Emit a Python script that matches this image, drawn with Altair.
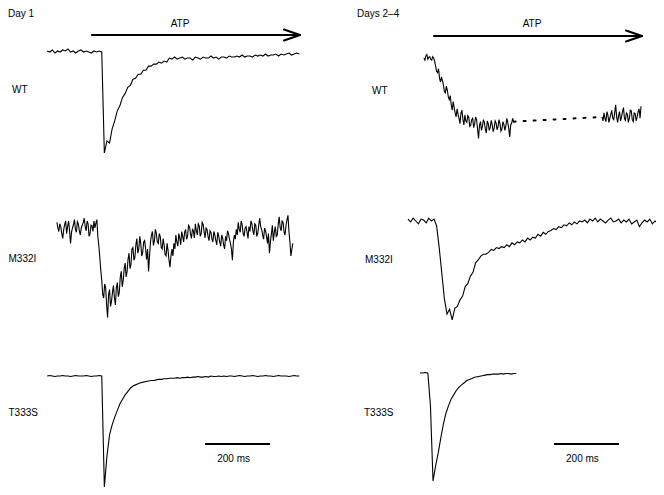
import altair as alt
import pandas as pd

# ---------------- data ----------------
# time in ms relative to ATP application, current normalised to the peak (fraction, inward negative)
PX_PER_MS = 0.325          # 200 ms scale bar = 65 px
ATP_DURATION_MS = 640
SCALE_BAR_MS = 200
SCALE_BAR_LABEL = "200 ms"

panel_titles = ["Day 1", "Days 2\u20134"]
row_labels = ["WT", "M332I", "T333S"]

# Day 1, WT
wt_d1_t0, wt_d1_dt = -138, 8
wt_d1 = [0.01, 0.0, 0.02, -0.01, 0.01, 0.0, 0.02, 0.01, 0.03, 0.0, 0.01, -0.01, 0.01, 0.02, 0.0, 0.01,
         0.0, -0.01, 0.01, 0.0, 0.01, 0.0,
         -1.0, -0.88, -0.90, -0.76, -0.68, -0.58, -0.53, -0.45, -0.41, -0.35, -0.33, -0.27, -0.26, -0.22,
         -0.22, -0.18, -0.18, -0.14, -0.14, -0.12, -0.12, -0.10, -0.11, -0.09, -0.10, -0.06,
         -0.07, -0.05, -0.07, -0.06, -0.05, -0.07, -0.06, -0.06, -0.08, -0.05, -0.06, -0.07, -0.05, -0.06,
         -0.06, -0.04, -0.06, -0.05, -0.07, -0.05, -0.05, -0.06, -0.04, -0.05,
         -0.05, -0.04, -0.05, -0.03, -0.05, -0.04, -0.04, -0.05, -0.03, -0.04, -0.03, -0.04, -0.02, -0.04,
         -0.03, -0.03, -0.02, -0.04, -0.02, -0.03, -0.02, -0.01, -0.03, -0.02, -0.01, -0.02]

# Day 1, M332I
m_d1_t0, m_d1_dt = -108, 3
m_d1 = [0.08, 0.0, -0.05, 0.06, 0.02, -0.08, -0.15, -0.02, 0.05, 0.10, -0.08, 0.02, 0.10, -0.04,
        -0.22, -0.06, 0.0, 0.05, 0.12, -0.02, -0.06, 0.09, 0.06, -0.04, -0.10, 0.0, 0.04, 0.08,
        0.14, 0.02, -0.04, 0.10, 0.06, -0.12, -0.08, 0.04, 0.03, -0.05, 0.10, 0.0, 0.07, 0.12,
        -0.12, -0.25, -0.42, -0.60, -0.75, -0.95, -1.00, -0.80, -0.85, -1.10, -1.28, -0.95,
        -0.88, -1.12, -1.05, -0.92, -0.82, -1.00, -1.10, -0.85, -0.78, -0.98, -0.92, -0.70,
        -0.62, -0.84, -0.75, -0.58, -0.50, -0.70, -0.62, -0.44, -0.36, -0.58, -0.52, -0.30,
        -0.28, -0.46, -0.42, -0.24, -0.15, -0.36, -0.30, -0.12, -0.22, -0.40, -0.35, -0.20,
        -0.18, -0.30, -0.45, -0.30, -0.62, -0.40, -0.20, -0.10, -0.05, -0.25, -0.18, -0.02,
        -0.08, -0.20, -0.22, -0.08, -0.12, -0.28, -0.30, -0.15, -0.25, -0.38, -0.40, -0.22,
        -0.32, -0.46, -0.56, -0.40, -0.30, -0.40, -0.22, -0.30, -0.10, -0.20, -0.26, -0.08,
        -0.14, -0.24, -0.05, -0.12, -0.20, -0.06, -0.02, -0.16, -0.12, 0.04, 0.02, -0.08,
        -0.15, -0.02, -0.04, -0.14, 0.06, -0.04, -0.10, 0.06, 0.03, -0.12, -0.08, 0.08,
        0.05, -0.06, -0.14, 0.0, -0.02, -0.12, -0.18, -0.04, -0.06, -0.16, -0.20, -0.05,
        -0.10, -0.18, -0.24, -0.06, -0.12, -0.20, -0.26, -0.10, -0.14, -0.24, -0.30, -0.12,
        -0.18, -0.04, -0.08, -0.16, -0.22, -0.30, -0.46, -0.20, -0.10, -0.16, -0.02, -0.10,
        0.08, -0.02, -0.06, 0.10, 0.05, -0.08, -0.12, 0.0, 0.02, -0.06, -0.15, 0.02,
        -0.05, 0.10, 0.06, -0.04, -0.10, 0.06, 0.04, -0.12, -0.08, 0.04, 0.14, 0.02,
        -0.02, -0.10, -0.16, 0.0, -0.04, -0.12, -0.22, -0.08, -0.36, -0.20, -0.08, 0.04,
        -0.18, -0.06, 0.02, -0.12, -0.10, 0.06, 0.16, 0.0, -0.04, 0.10, 0.08, -0.06,
        -0.10, 0.04, 0.12, 0.18, -0.05, -0.20, -0.40, -0.30, -0.22]

# Day 1, T333S
t_d1_t0, t_d1_dt = -138, 8
t_d1 = [0.0, 0.005, 0.0, -0.005, 0.0, 0.0, 0.005, 0.0, 0.0, -0.005, 0.0, 0.005, 0.0, 0.0, 0.0, 0.005,
        0.0, -0.005, 0.0, 0.0, 0.005, 0.0,
        -1.0, -0.72, -0.53, -0.44, -0.37, -0.31, -0.25, -0.21, -0.17, -0.14, -0.11, -0.09, -0.08, -0.07, -0.06,
        -0.055, -0.05, -0.045, -0.04, -0.04, -0.035, -0.03, -0.03, -0.025, -0.025,
        -0.02, -0.02, -0.02, -0.015, -0.02, -0.015, -0.015, -0.01, -0.015, -0.01,
        -0.01, -0.005, -0.01, -0.01, -0.005, -0.01, 0.0, -0.005, -0.005, 0.0,
        -0.005, 0.0, -0.005, 0.0, 0.0, -0.005, 0.0, 0.005, 0.0, -0.005,
        0.0, 0.0, 0.005, 0.0, -0.005, 0.0, 0.0, 0.005, 0.0, 0.0,
        -0.005, 0.0, 0.005, 0.0, 0.0, 0.0, -0.005, 0.0, 0.005, 0.0, 0.0]

# Days 2-4, WT (early part, gap, late part)
wt_d24_t0, wt_d24_dt = -31, 3
wt_d24 = [0.0, -0.03, 0.03, 0.05, -0.02, 0.01, 0.02, -0.02, -0.03, 0.02, 0.0, -0.05,
          -0.12, -0.20, -0.22, -0.16, -0.30, -0.36, -0.28, -0.34, -0.40, -0.50, -0.52, -0.42,
          -0.48, -0.58, -0.62, -0.56, -0.70, -0.78, -0.65, -0.74, -0.82, -0.88, -0.76, -0.84,
          -0.90, -0.98, -0.82, -0.78, -0.92, -1.00, -0.85, -0.94, -0.96, -0.86, -0.88, -1.02,
          -1.0, -0.92, -0.90, -1.04, -0.98, -0.88, -0.92, -1.06, -1.20, -1.00, -0.95, -1.08,
          -1.02, -0.92, -0.96, -1.06, -1.12, -0.94, -0.98, -1.08, -1.04, -0.93, -0.99, -1.10,
          -1.05, -0.94, -0.97, -1.07, -1.03, -0.92, -0.98, -1.09, -1.06, -0.95, -0.99, -1.08,
          -1.02, -0.90, -0.96, -1.05, -1.18, -1.00, -0.97, -0.90, -0.95]
wt_d24_late_t0, wt_d24_late_dt = 517, 3
wt_d24_late = [-0.88, -0.94, -0.82, -0.90, -0.95, -0.80, -0.85, -0.96, -0.90, -0.84, -0.78, -0.90,
               -0.92, -0.82, -0.70, -0.88, -0.96, -0.86, -0.80, -0.94, -0.88, -0.80, -0.74, -0.90,
               -0.93, -0.82, -0.84, -0.96, -0.90, -0.78, -0.79, -0.92, -0.95, -0.82, -0.83, -0.94,
               -0.88, -0.80, -0.76, -0.90, -0.72]

# Days 2-4, M332I
m_d24_t0, m_d24_dt = -80, 8
m_d24 = [0.02, -0.01, 0.03, 0.0, -0.03, 0.02, 0.01, -0.02, 0.03, 0.0, 0.02,
         -0.05, -0.28, -0.55, -0.82, -0.98, -0.93, -1.04, -0.92, -0.90, -0.83, -0.79, -0.69, -0.66, -0.58,
         -0.54, -0.44, -0.41, -0.37, -0.35, -0.35, -0.33, -0.30, -0.31, -0.28, -0.29, -0.27,
         -0.28, -0.25, -0.27, -0.23, -0.25, -0.22, -0.23, -0.20, -0.22, -0.18, -0.20, -0.17,
         -0.18, -0.14, -0.16, -0.12, -0.14, -0.11,
         -0.10, -0.08, -0.09, -0.06, -0.07, -0.04,
         -0.05, -0.02, -0.04, -0.01, -0.03, 0.0, -0.01,
         0.01, -0.02, 0.02, 0.0, 0.03, -0.01, 0.02, 0.0, -0.02, 0.01, 0.03, -0.01, 0.0, 0.02, -0.02, 0.01,
         -0.01, 0.02, -0.03, -0.01, 0.01, -0.06, -0.02, 0.01, -0.01, 0.02, -0.03, 0.0, -0.02, -0.01]

# Days 2-4, T333S
t_d24_t0, t_d24_dt = -43, 8
t_d24 = [0.0, 0.0, 0.005, 0.0, -0.3, -1.0, -0.86, -0.74, -0.60, -0.47, -0.37, -0.30, -0.24, -0.20, -0.16,
         -0.13, -0.11, -0.09, -0.07, -0.06, -0.05, -0.04, -0.035, -0.03, -0.025, -0.02,
         -0.015, -0.015, -0.01, -0.01, -0.01, -0.005, -0.01, -0.005, -0.005, -0.01, -0.005, -0.005]

# ---------------- layout (page pixels) ----------------
panel_x0 = {"d1": 92, "d24": 434}       # x where ATP arrow starts (t = 0)
traces = [
    # name, panel, t0, dt, values, baseline y, peak depth px
    ("wt_d1", "d1", wt_d1_t0, wt_d1_dt, wt_d1, 52, 101),
    ("m_d1", "d1", m_d1_t0, m_d1_dt, m_d1, 228, 70),
    ("t_d1", "d1", t_d1_t0, t_d1_dt, t_d1, 376, 111),
    ("wt_d24", "d24", wt_d24_t0, wt_d24_dt, wt_d24, 58, 67),
    ("wt_d24_late", "d24", wt_d24_late_t0, wt_d24_late_dt, wt_d24_late, 58, 67),
    ("m_d24", "d24", m_d24_t0, m_d24_dt, m_d24, 221, 95),
    ("t_d24", "d24", t_d24_t0, t_d24_dt, t_d24, 373, 108),
]

rows = []
for name, panel, t0, dt, vals, base, depth in traces:
    for i, v in enumerate(vals):
        t = t0 + dt * i
        rows.append({"trace": name, "i": i,
                     "x": panel_x0[panel] + t * PX_PER_MS,
                     "y": base - v * depth})
trace_df = pd.DataFrame(rows)

# dotted connection across the gap in the Days 2-4 WT recording
early = trace_df[trace_df.trace == "wt_d24"].iloc[-1]
late = trace_df[trace_df.trace == "wt_d24_late"].iloc[0]
gap_df = pd.DataFrame([{"i": 0, "x": early.x, "y": early.y}, {"i": 1, "x": late.x, "y": late.y}])

# arrows (ATP application) and scale bars
arrow_y = {"d1": 35, "d24": 36}
seg_rows = []
for p in ["d1", "d24"]:
    xa = panel_x0[p]
    xb = xa + ATP_DURATION_MS * PX_PER_MS
    ya = arrow_y[p]
    seg_rows += [
        {"x": xa, "y": ya, "x2": xb, "y2": ya},
        {"x": xb - 16, "y": ya - 5.5, "x2": xb, "y2": ya},
        {"x": xb - 16, "y": ya + 5.5, "x2": xb, "y2": ya},
    ]
arrow_df = pd.DataFrame(seg_rows)

bar_start_ms = {"d1": 348, "d24": 369}
atp_label_shift = {"d1": -16, "d24": -6}
bar_rows, center_rows = [], []
for p in ["d1", "d24"]:
    xs_ = panel_x0[p] + bar_start_ms[p] * PX_PER_MS
    xe_ = xs_ + SCALE_BAR_MS * PX_PER_MS
    bar_rows.append({"x": xs_, "y": 444, "x2": xe_, "y2": 444})
    center_rows.append({"x": (xs_ + xe_) / 2 - 4, "y": 462, "text": SCALE_BAR_LABEL})
    center_rows.append({"x": panel_x0[p] + ATP_DURATION_MS * PX_PER_MS / 2 + atp_label_shift[p],
                        "y": 27, "text": "ATP"})
bar_df = pd.DataFrame(bar_rows)
center_text_df = pd.DataFrame(center_rows)

left_text_df = pd.DataFrame([
    {"x": 8, "y": 17, "text": panel_titles[0]},
    {"x": 357, "y": 17, "text": panel_titles[1]},
    {"x": 12, "y": 93, "text": row_labels[0]},
    {"x": 372, "y": 94, "text": row_labels[0]},
    {"x": 8.5, "y": 262, "text": row_labels[1]},
    {"x": 365, "y": 263, "text": row_labels[1]},
    {"x": 8.5, "y": 416, "text": row_labels[2]},
    {"x": 364, "y": 416, "text": row_labels[2]},
])

# ---------------- chart ----------------
W, H = 648, 479
xsc = alt.Scale(domain=[8, 8 + W], nice=False, zero=False)
ysc = alt.Scale(domain=[8, 8 + H], nice=False, zero=False, reverse=True)
X = alt.X("x:Q", scale=xsc, axis=None)
Y = alt.Y("y:Q", scale=ysc, axis=None)

lines = alt.Chart(trace_df).mark_line(color="black", strokeWidth=1.1).encode(
    x=X, y=Y, detail="trace:N", order="i:Q")
gap = alt.Chart(gap_df).mark_line(color="black", strokeWidth=2, strokeDash=[2, 8],
                                  strokeCap="round").encode(x=X, y=Y, order="i:Q")
arrows = alt.Chart(arrow_df).mark_rule(color="black", strokeWidth=2, strokeCap="round").encode(
    x=X, y=Y, x2="x2:Q", y2="y2:Q")
bars = alt.Chart(bar_df).mark_rule(color="black", strokeWidth=1.8).encode(
    x=X, y=Y, x2="x2:Q", y2="y2:Q")
txt_c = alt.Chart(center_text_df).mark_text(align="center", baseline="alphabetic",
                                            font="Liberation Sans", fontSize=10, color="black").encode(
    x=X, y=Y, text="text:N")
txt_l = alt.Chart(left_text_df).mark_text(align="left", baseline="alphabetic",
                                          font="Liberation Sans", fontSize=10, color="black").encode(
    x=X, y=Y, text="text:N")

chart = alt.layer(lines, gap, arrows, bars, txt_c, txt_l).properties(
    width=W, height=H, padding=0,
    autosize=alt.AutoSizeParams(type="none"),
).configure_view(stroke=None)

chart.save("out.html", embed_options={"renderer": "svg", "actions": False})
